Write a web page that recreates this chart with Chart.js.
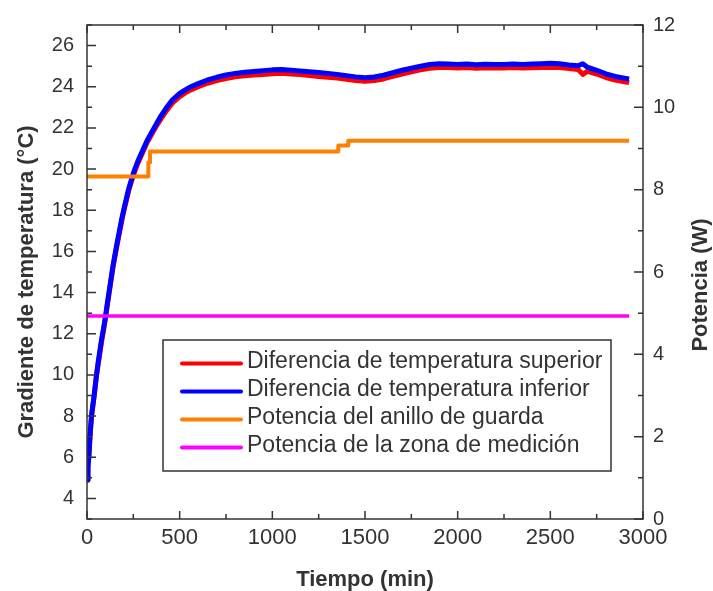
<!DOCTYPE html>
<html><head><meta charset="utf-8">
<script src="https://cdn.jsdelivr.net/npm/chart.js@4.4.1/dist/chart.umd.min.js"></script>
<style>html,body{margin:0;padding:0;background:#fff}#wrap{width:713px;height:591px}</style>
</head><body><div id="wrap"><canvas id="c" width="713" height="591"></canvas></div>
<script>
// ---- data ----
const timeTemp = [0,5,10,15,20,25,30,40,50,60,70,80,90,100,110,120,130,140,150,160,175,190,200,225,250,275,300,325,350,375,400,430,460,500,530,560,600,650,700,750,800,850,900,950,1000,1050,1100,1150,1200,1250,1300,1350,1400,1450,1500,1550,1600,1650,1700,1750,1800,1850,1900,1950,2000,2050,2100,2150,2200,2250,2300,2350,2400,2450,2500,2550,2600,2650,2675,2700,2750,2800,2850,2900,2925];
const tempSuperior = [4.9,5.6,6.1,6.9,7.5,8.0,8.4,9.1,9.9,10.5,11.1,11.7,12.2,12.8,13.4,14.0,14.6,15.2,15.7,16.2,16.9,17.6,18.0,18.95,19.7,20.3,20.8,21.3,21.7,22.1,22.45,22.85,23.2,23.52,23.7,23.85,24.0,24.17,24.3,24.4,24.48,24.53,24.57,24.6,24.63,24.65,24.62,24.59,24.55,24.5,24.46,24.42,24.36,24.3,24.27,24.3,24.38,24.5,24.62,24.72,24.82,24.9,24.94,24.93,24.91,24.93,24.9,24.92,24.91,24.91,24.93,24.91,24.92,24.94,24.95,24.93,24.88,24.84,24.6,24.75,24.62,24.45,24.32,24.24,24.2];
const tempInferior = [4.9,5.5,6.0,6.8,7.5,8.1,8.4,9.1,9.9,10.6,11.2,11.8,12.3,12.85,13.5,14.1,14.7,15.3,15.8,16.3,17.0,17.7,18.1,19.05,19.8,20.4,20.9,21.4,21.8,22.2,22.6,23.0,23.35,23.68,23.85,24.0,24.15,24.33,24.46,24.57,24.65,24.7,24.74,24.78,24.82,24.84,24.8,24.77,24.73,24.69,24.65,24.6,24.54,24.48,24.44,24.47,24.56,24.68,24.8,24.9,25.0,25.08,25.12,25.1,25.08,25.1,25.07,25.09,25.08,25.08,25.1,25.08,25.1,25.12,25.14,25.12,25.06,25.02,25.12,24.95,24.8,24.63,24.5,24.42,24.38];
const guardTime = [0,331,340,1356,1410,2925];
const guardPower = [8.32,8.66,8.93,9.07,9.19,9.19];
const measTime = [0,2925];
const measPower = [4.93,4.93];
const xTicks = [0,500,1000,1500,2000,2500,3000];
const leftTicks = [4,6,8,10,12,14,16,18,20,22,24,26];
const rightTicks = [0,2,4,6,8,10,12];
const seriesLabels = ['Diferencia de temperatura superior','Diferencia de temperatura inferior','Potencia del anillo de guarda','Potencia de la zona de medición'];
const xTitle = 'Tiempo (min)';
const yTitle = 'Gradiente de temperatura (°C)';
const y1Title = 'Potencia (W)';

const FONT = "'Liberation Sans', Arial, sans-serif";
const INK = '#333333';
const colors = ['#ff0000','#0000ff','#ff8000','#ff00ff'];

const pts = (xs, ys) => xs.map((x, i) => ({x, y: ys[i]}));
const plain = v => String(v);

const frameTicks = {
  id: 'frameTicks',
  afterDatasetsDraw(chart) {
    const {ctx, chartArea: a, scales} = chart;
    ctx.save();
    ctx.strokeStyle = INK; ctx.lineWidth = 1.5;
    ctx.strokeRect(a.left, a.top, a.right - a.left, a.bottom - a.top);
    ctx.beginPath();
    const x = scales.x, y = scales.y, y1 = scales.y1;
    const step = xTicks[1] - xTicks[0];
    for (let v = xTicks[0]; v <= xTicks[xTicks.length-1]; v += step/2) {
      const px = x.getPixelForValue(v);
      const len = (v % step === 0) ? 8 : 5;
      ctx.moveTo(px, a.bottom); ctx.lineTo(px, a.bottom - len);
      ctx.moveTo(px, a.top); ctx.lineTo(px, a.top + len);
    }
    for (let v = y.min; v <= y.max; v += 1) {
      const py = y.getPixelForValue(v);
      const len = leftTicks.includes(v) ? 9 : 5;
      ctx.moveTo(a.left, py); ctx.lineTo(a.left + len, py);
    }
    for (let v = y1.min; v <= y1.max; v += 1) {
      const py = y1.getPixelForValue(v);
      const len = rightTicks.includes(v) ? 9 : 5;
      ctx.moveTo(a.right, py); ctx.lineTo(a.right - len, py);
    }
    ctx.stroke();
    ctx.restore();
  }
};

const legendTitles = {
  id: 'legendTitles',
  afterDraw(chart) {
    const {ctx, chartArea: a} = chart;
    ctx.save();
    const bx = a.left + 76, by = a.top + 315, bw = 448, bh = 131;
    ctx.strokeStyle = INK; ctx.lineWidth = 1.5;
    ctx.strokeRect(bx, by, bw, bh);
    ctx.font = '23px ' + FONT;
    ctx.textBaseline = 'middle'; ctx.textAlign = 'left';
    chart.data.datasets.forEach((ds, i) => {
      const ry = by + 23.5 + i * 28;
      ctx.strokeStyle = ds.borderColor; ctx.lineWidth = 4; ctx.lineCap = 'round';
      ctx.beginPath(); ctx.moveTo(bx + 19, ry); ctx.lineTo(bx + 78, ry); ctx.stroke();
      ctx.fillStyle = INK;
      ctx.fillText(ds.label, bx + 84, ry - 1.5);
    });
    ctx.fillStyle = INK;
    ctx.font = 'bold 22px ' + FONT;
    ctx.textAlign = 'center'; ctx.textBaseline = 'alphabetic';
    ctx.fillText(xTitle, (a.left + a.right) / 2, 586);
    ctx.save(); ctx.translate(33, 282); ctx.rotate(-Math.PI/2); ctx.fillText(yTitle, 0, 0); ctx.restore();
    ctx.save(); ctx.translate(706.5, 285); ctx.rotate(-Math.PI/2); ctx.fillText(y1Title, 0, 0); ctx.restore();
    ctx.restore();
  }
};

new Chart(document.getElementById('c'), {
  type: 'line',
  data: {
    datasets: [
      {label: seriesLabels[0], data: pts(timeTemp, tempSuperior), yAxisID: 'y', borderColor: colors[0], borderWidth: 5, order: 3},
      {label: seriesLabels[1], data: pts(timeTemp, tempInferior), yAxisID: 'y', borderColor: colors[1], borderWidth: 5, order: 2},
      {label: seriesLabels[2], data: pts(guardTime, guardPower), yAxisID: 'y1', borderColor: colors[2], borderWidth: 4, stepped: true, order: 1},
      {label: seriesLabels[3], data: pts(measTime, measPower), yAxisID: 'y1', borderColor: colors[3], borderWidth: 3.5, order: 0}
    ]
  },
  options: {
    responsive: false, animation: false, devicePixelRatio: 1,
    parsing: false,
    elements: {point: {radius: 0}, line: {tension: 0, borderCapStyle: 'butt', borderJoinStyle: 'round'}},
    layout: {padding: {top: 23, left: 0, right: 0, bottom: 0}},
    plugins: {legend: {display: false}, tooltip: {enabled: false}},
    scales: {
      x: {
        type: 'linear', position: 'bottom', min: 0, max: 3000,
        afterBuildTicks: s => { s.ticks = xTicks.map(v => ({value: v})); },
        afterFit: s => { s.height = 72; },
        grid: {display: false, drawTicks: false}, border: {display: false},
        ticks: {font: {family: FONT, size: 22}, color: INK, padding: 6, maxRotation: 0, autoSkip: false, callback: plain}
      },
      y: {
        type: 'linear', position: 'left', min: 3, max: 27,
        afterBuildTicks: s => { s.ticks = leftTicks.map(v => ({value: v})); },
        afterFit: s => { s.width = 87; },
        grid: {display: false, drawTicks: false}, border: {display: false},
        ticks: {font: {family: FONT, size: 20}, color: INK, padding: 13, autoSkip: false, callback: plain}
      },
      y1: {
        type: 'linear', position: 'right', min: 0, max: 12,
        afterBuildTicks: s => { s.ticks = rightTicks.map(v => ({value: v})); },
        afterFit: s => { s.width = 70; },
        grid: {display: false, drawTicks: false}, border: {display: false},
        ticks: {font: {family: FONT, size: 20}, color: INK, padding: 10, autoSkip: false, callback: plain}
      }
    }
  },
  plugins: [frameTicks, legendTitles]
});
</script></body></html>
